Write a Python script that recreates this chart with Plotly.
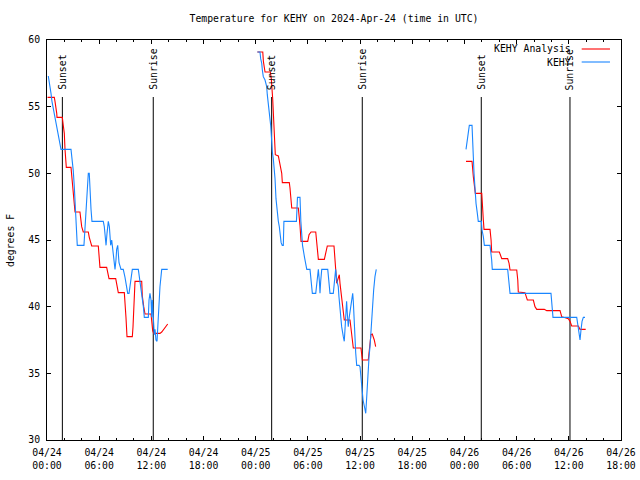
import plotly.graph_objects as go
import pandas as pd

START = pd.Timestamp("2024-04-24 00:00")
END = pd.Timestamp("2024-04-26 18:00")

# ---- KEHY Analysis (red), hours after 2024-04-24 00:00 UTC, deg F ----
ana_n1_hours = [0.06,0.84,0.92,1.03,1.12,1.15,1.76,1.87,1.99,2.07,2.15,2.22,2.76,2.84,2.91,3.02,3.14,3.22,3.79,3.87,3.99,4.17,4.75,4.86,5.14,5.90,5.98,6.09,6.86,6.98,7.13,7.90,8.01,8.20,8.89,8.97,9.08,9.20,9.81,9.89,9.97,10.12,10.89,10.96,11.12,11.27,11.96,12.04,12.15,12.27,12.99,13.19,13.57,13.88]
ana_n1_temp = [55.7,55.7,55.4,55.0,54.5,54.2,54.2,53.6,53.0,51.8,51.0,50.45,50.45,49.9,49.0,48.25,47.5,47.1,47.1,46.5,46.0,45.6,45.6,45.2,44.55,44.55,43.8,42.95,42.95,42.5,42.1,42.1,41.6,41.05,41.05,40.5,39.2,37.75,37.75,38.5,40.0,41.9,41.9,40.8,40.0,39.45,39.45,38.7,38.2,38.0,38.0,38.1,38.4,38.7]

ana_n2_hours = [24.19,24.81,24.88,24.96,25.07,25.68,25.79,25.95,26.02,26.10,26.18,26.25,26.60,26.71,26.87,26.99,27.06,27.86,27.94,28.02,28.14,28.90,28.98,29.09,29.21,29.98,30.13,30.36,30.90,31.02,31.13,31.20,31.89,32.05,32.23,33.00,33.11,33.19,33.31,33.42,33.61,33.69,33.88,34.07,34.18,34.84,34.95,35.10,35.22,36.10,36.19,36.26,36.94,37.02,37.14,37.25,37.40,37.52,37.63,37.79]
ana_n2_temp = [59.1,59.1,58.4,57.9,57.6,57.6,57.1,55.6,54.6,53.6,52.4,51.4,51.3,50.9,50.6,50.0,49.3,49.3,48.9,48.3,47.4,47.4,46.9,46.1,44.9,44.9,45.4,45.6,45.6,44.6,43.9,43.55,43.55,44.1,44.55,44.55,43.25,42.5,41.75,42.0,42.4,41.75,40.75,39.5,39.0,39.0,38.5,37.75,36.9,36.9,36.5,36.0,36.0,36.5,37.5,37.9,37.95,37.75,37.5,37.0]

ana_n3_hours = [48.18,48.87,49.02,49.18,49.25,49.99,50.06,50.17,50.25,50.94,51.06,51.13,52.01,52.17,52.29,52.97,53.13,53.24,54.01,54.13,54.19,54.96,55.08,55.23,55.92,56.11,56.31,57.18,57.46,58.99,59.18,59.94,60.14,60.33,61.09,61.29,61.94]
ana_n3_temp = [50.9,50.9,49.75,49.0,48.5,48.5,47.25,46.5,45.8,45.8,45.0,44.1,44.1,43.75,43.6,43.6,43.25,42.75,42.75,42.0,41.1,41.05,40.75,40.5,40.5,40.0,39.8,39.8,39.7,39.7,39.25,39.1,38.9,38.55,38.55,38.3,38.3]

# ---- KEHY observations (blue) ----
obs_n1_hours = [0.15,0.29,0.46,0.57,0.75,0.92,1.15,1.32,1.50,1.61,2.76,2.84,2.91,3.02,3.14,3.22,3.30,3.37,3.48,4.25,4.34,4.45,4.54,4.68,4.75,4.86,4.94,5.06,5.17,6.47,6.59,6.67,6.79,6.90,7.05,7.17,7.24,7.32,7.44,7.62,7.74,7.82,7.93,8.01,8.13,8.28,8.51,8.77,8.97,9.16,9.28,9.43,9.54,9.66,9.81,10.50,10.69,10.89,11.08,11.19,11.65,11.73,11.84,11.96,12.04,12.11,12.22,12.34,12.42,12.53,12.65,12.73,12.80,12.88,12.99,13.19,13.88]
obs_n1_temp = [57.3,56.8,56.0,55.4,54.8,54.2,53.6,53.0,52.2,51.8,51.8,51.4,51.0,50.2,49.0,48.0,47.2,46.0,44.6,44.6,45.5,46.4,47.2,49.0,50.0,50.0,48.5,47.3,46.4,46.4,46.0,45.5,44.6,45.5,46.4,46.0,45.5,44.6,45.0,44.0,43.2,42.8,43.5,44.3,44.6,43.3,42.8,42.8,42.2,41.2,41.0,41.0,41.5,42.0,42.8,42.8,42.0,41.0,40.0,39.2,39.2,40.5,41.0,40.5,39.2,40.5,38.7,37.9,38.3,37.5,37.4,38.3,39.5,40.5,41.5,42.8,42.8]

obs_n2_hours = [24.19,24.49,24.57,24.69,24.76,24.87,25.07,25.26,25.33,25.45,25.56,25.64,25.72,25.79,25.84,25.91,26.02,26.22,26.33,26.41,26.53,26.60,26.71,26.79,26.92,27.05,27.17,27.24,28.68,28.80,29.09,29.19,29.38,29.61,29.87,30.24,30.36,30.51,30.90,31.02,31.20,31.32,31.39,31.47,31.59,32.28,32.39,32.54,32.92,33.03,33.11,33.19,33.31,33.49,33.57,33.69,33.80,33.88,34.07,34.18,34.26,34.38,34.45,34.53,34.64,34.76,34.87,35.03,35.15,35.22,35.30,35.41,35.50,35.61,35.88,35.99,36.10,36.19,36.34,36.53,36.65,36.72,36.88,37.03,37.14,37.25,37.40,37.56,37.71,37.86]
obs_n2_temp = [59.1,59.1,58.6,58.25,57.75,57.25,57.0,56.5,55.9,55.25,54.75,54.25,53.6,52.9,52.1,51.6,51.1,49.6,48.1,47.4,46.9,46.4,46.0,45.4,44.8,44.6,44.6,46.4,46.4,48.2,48.2,46.4,44.6,43.7,42.8,42.8,41.9,41.0,41.0,42.0,42.8,41.9,41.0,41.9,42.8,42.8,41.9,41.0,41.0,41.75,42.25,42.8,42.0,41.5,40.75,39.75,39.1,38.5,37.75,37.4,38.25,39.5,40.4,39.5,38.5,39.25,39.8,40.4,41.0,40.4,39.0,38.0,36.5,35.6,35.6,35.5,34.75,34.0,33.0,32.4,32.0,32.75,35.0,36.25,37.0,38.25,39.5,41.25,42.25,42.8]

obs_n3_hours = [48.18,48.26,48.33,48.44,48.56,48.87,48.95,49.02,49.10,49.18,49.25,49.33,49.48,49.59,49.94,50.02,50.17,50.29,50.94,51.02,51.13,51.20,52.97,53.09,53.24,57.95,58.07,58.18,60.91,61.02,61.17,61.29,61.40,61.52,61.67,61.86]
obs_n3_temp = [51.8,52.25,52.75,53.4,53.6,53.6,52.75,51.25,50.0,49.0,48.25,47.75,47.0,46.4,46.4,45.75,45.25,44.6,44.6,44.25,43.5,42.8,42.8,42.0,41.0,41.0,40.0,39.2,39.2,38.75,38.1,37.5,38.25,38.9,39.2,39.2]

# ---- Sun events (UTC) ----
sun_labels = ["Sunset", "Sunrise", "Sunset", "Sunrise", "Sunset", "Sunrise"]
sun_times = ["2024-04-24 01:46", "2024-04-24 12:13", "2024-04-25 01:50",
             "2024-04-25 12:15", "2024-04-26 01:56", "2024-04-26 12:08"]

FONT = "DejaVu Sans Mono"
FS = 9.8
RED = "#ff0000"
BLUE = "#1a86ff"


def join_nights(nights):
    xs, ys = [], []
    for hours, temps in nights:
        assert len(hours) == len(temps)
        if xs:
            xs.append(None)
            ys.append(None)
        xs += [(START + pd.Timedelta(hours=h)).strftime("%Y-%m-%d %H:%M:%S") for h in hours]
        ys += temps
    return xs, ys


ax, ay = join_nights([(ana_n1_hours, ana_n1_temp), (ana_n2_hours, ana_n2_temp), (ana_n3_hours, ana_n3_temp)])
ox, oy = join_nights([(obs_n1_hours, obs_n1_temp), (obs_n2_hours, obs_n2_temp), (obs_n3_hours, obs_n3_temp)])

fig = go.Figure()
fig.add_trace(go.Scatter(x=ax, y=ay, mode="lines", name="KEHY Analysis",
                         line=dict(color=RED, width=1.1), connectgaps=False))
fig.add_trace(go.Scatter(x=ox, y=oy, mode="lines", name="KEHY",
                         line=dict(color=BLUE, width=1.1), connectgaps=False))

shapes = []
annotations = []
for lab, t in zip(sun_labels, sun_times):
    shapes.append(dict(type="line", xref="x", yref="paper", x0=t, x1=t, y0=0, y1=0.8575,
                       line=dict(color="black", width=1), layer="below"))
    annotations.append(dict(text=lab, x=t, xref="x", y=0.87, yref="paper", textangle=-90,
                            xanchor="center", yanchor="bottom", showarrow=False,
                            font=dict(family=FONT, size=FS, color="black")))

# legend drawn gnuplot-style (text right-aligned, sample to the right)
legend_items = [("KEHY Analysis", RED, 0.9775), ("KEHY", BLUE, 0.945)]
for name, col, yy in legend_items:
    annotations.append(dict(text=name, x=0.9164, xref="paper", y=yy, yref="paper",
                            xanchor="right", yanchor="middle", showarrow=False,
                            font=dict(family=FONT, size=FS, color="black")))
    shapes.append(dict(type="line", xref="paper", yref="paper", x0=0.9315, x1=0.9808,
                       y0=yy, y1=yy, line=dict(color=col, width=1.1)))

annotations.append(dict(text="degrees F", x=-0.0645, xref="paper", y=0.5, yref="paper",
                        textangle=-90, xanchor="center", yanchor="middle", showarrow=False,
                        font=dict(family=FONT, size=FS, color="black")))

fig.update_layout(
    width=640, height=480, autosize=False,
    margin=dict(l=47, r=19, t=40, b=40, autoexpand=False),
    paper_bgcolor="white", plot_bgcolor="white",
    showlegend=False,
    title=dict(text="Temperature for KEHY on 2024-Apr-24 (time in UTC)",
               x=0.5, xref="paper", xanchor="center",
               y=1 - 19 / 480, yref="container", yanchor="middle",
               font=dict(family=FONT, size=FS, color="black")),
    font=dict(family=FONT, size=FS, color="black"),
    shapes=shapes, annotations=annotations,
    xaxis=dict(type="date", range=[START, END], tick0=START, dtick=6 * 3600000,
               tickformat="%m/%d<br>%H:%M", ticks="inside", ticklen=4, tickcolor="black",
               showline=True, linecolor="black", linewidth=1, mirror="allticks",
               showgrid=False, zeroline=False, automargin=False,
               ticklabelstandoff=3,
               tickfont=dict(family=FONT, size=FS, color="black"),
               minor=dict(dtick=2 * 3600000, ticks="inside", ticklen=2,
                          tickcolor="black", showgrid=False)),
    yaxis=dict(range=[30, 60], tick0=30, dtick=5, ticks="inside", ticklen=4,
               tickcolor="black", showline=True, linecolor="black", linewidth=1,
               mirror="allticks", showgrid=False, zeroline=False, automargin=False,
               ticklabelstandoff=4,
               tickfont=dict(family=FONT, size=FS, color="black")),
)

fig.write_html(
    "out.html",
    config={"responsive": False, "displayModeBar": False, "staticPlot": True},
    post_script="document.body.style.margin='0';document.body.style.padding='0';"
                "document.body.style.overflow='hidden';",
)
